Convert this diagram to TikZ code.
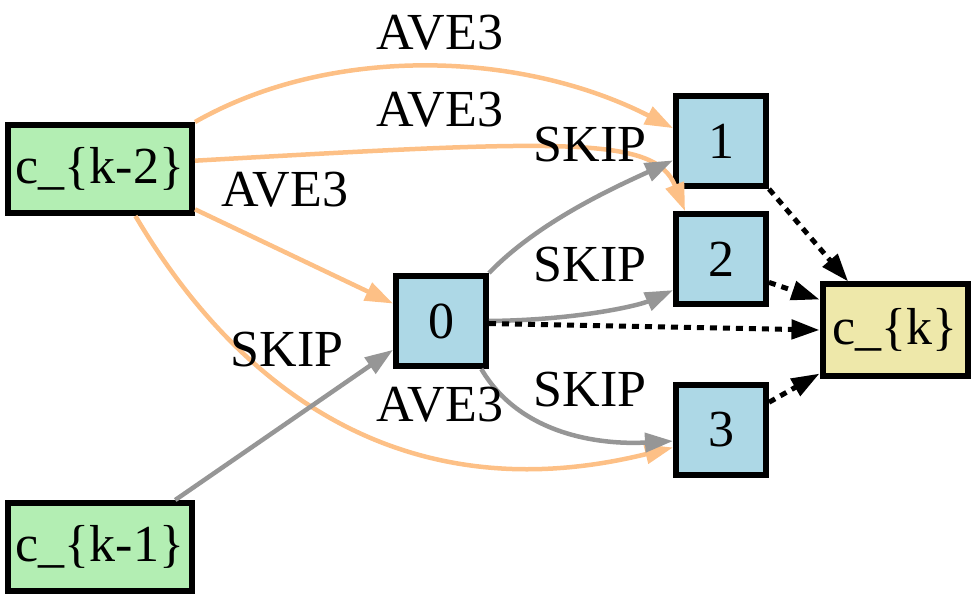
\documentclass[tikz,border=0pt]{standalone}
\usepackage{fontspec}
\setmainfont{Liberation Serif}
\usetikzlibrary{arrows.meta}

\definecolor{inclr}{RGB}{179,238,179}
\definecolor{midclr}{RGB}{173,216,230}
\definecolor{outclr}{RGB}{238,232,170}
\definecolor{aveclr}{RGB}{253,192,134}
\definecolor{skipclr}{RGB}{150,150,150}

\begin{document}
\begin{tikzpicture}[
  x=1pt, y=-1pt,
  every node/.style={font=\fontsize{52}{60}\selectfont, inner sep=0pt},
  cell/.style={draw, line width=6pt, fill=inclr, minimum width=184pt, minimum height=88pt},
  mid/.style={draw, line width=6pt, fill=midclr, minimum width=90pt, minimum height=90pt},
  outcell/.style={draw, line width=6pt, fill=outclr, minimum width=145pt, minimum height=91pt},
  ave/.style={-{Triangle[length=28pt, width=19pt]}, draw=aveclr, line width=4.5pt},
  skip/.style={-{Triangle[length=28pt, width=19pt]}, draw=skipclr, line width=4.5pt},
  sum/.style={-{Triangle[length=28pt, width=19pt]}, line width=5pt, dash pattern=on 7pt off 6pt},
]
\useasboundingbox (0,0) rectangle (976,601);

\node[cell] (k2) at (100,169) {c\_\{k-2\}};
\node[cell] (k1) at (100,547) {c\_\{k-1\}};
\node[mid] (n0) at (441,321) {0};
\node[mid] (n1) at (721,141) {1};
\node[mid] (n2) at (721,259) {2};
\node[mid] (n3) at (721,430) {3};
\node[outcell] (ck) at (895,330) {c\_\{k\}};

% inputs
\draw[ave] (k2.north east) .. controls (330,45) and (520,50) .. (n1.165);
\draw[ave] (k2.5) .. controls (560,140) and (655,135) .. ([xshift=12pt]n2.north west);
\draw[ave] (k2.-23) -- (n0.160);
\draw[ave] (k2.-53) .. controls (235,385) and (400,515) .. (n3.200);
\draw[skip] (k1.32) -- (n0.211);

% from node 0
\draw[skip] (n0.north east) .. controls (540,220) and (620,185) .. (n1.202);
\draw[skip] (n0.east) .. controls (580,320) and (640,305) .. (n2.213);
\draw[skip] (n0.-50) .. controls (520,435) and (600,445) .. (n3.193);

% output
\draw[sum] (n1.south east) -- (ck.134);
\draw[sum] (n2.-26) -- (ck.158);
\draw[sum] (n0.-3) -- (ck.west);
\draw[sum] (n3.30) -- (ck.210);

% edge labels
\node (l1) at (440,33) {AVE3};
\node (l2) at (440,110) {AVE3};
\node (l3) at (285,190) {AVE3};
\node (l4) at (287,350) {SKIP};
\node (l5) at (440,405) {AVE3};
\node (l6) at (590,145) {SKIP};
\node (l7) at (590,265) {SKIP};
\node (l8) at (590,390) {SKIP};
\end{tikzpicture}
\end{document}
